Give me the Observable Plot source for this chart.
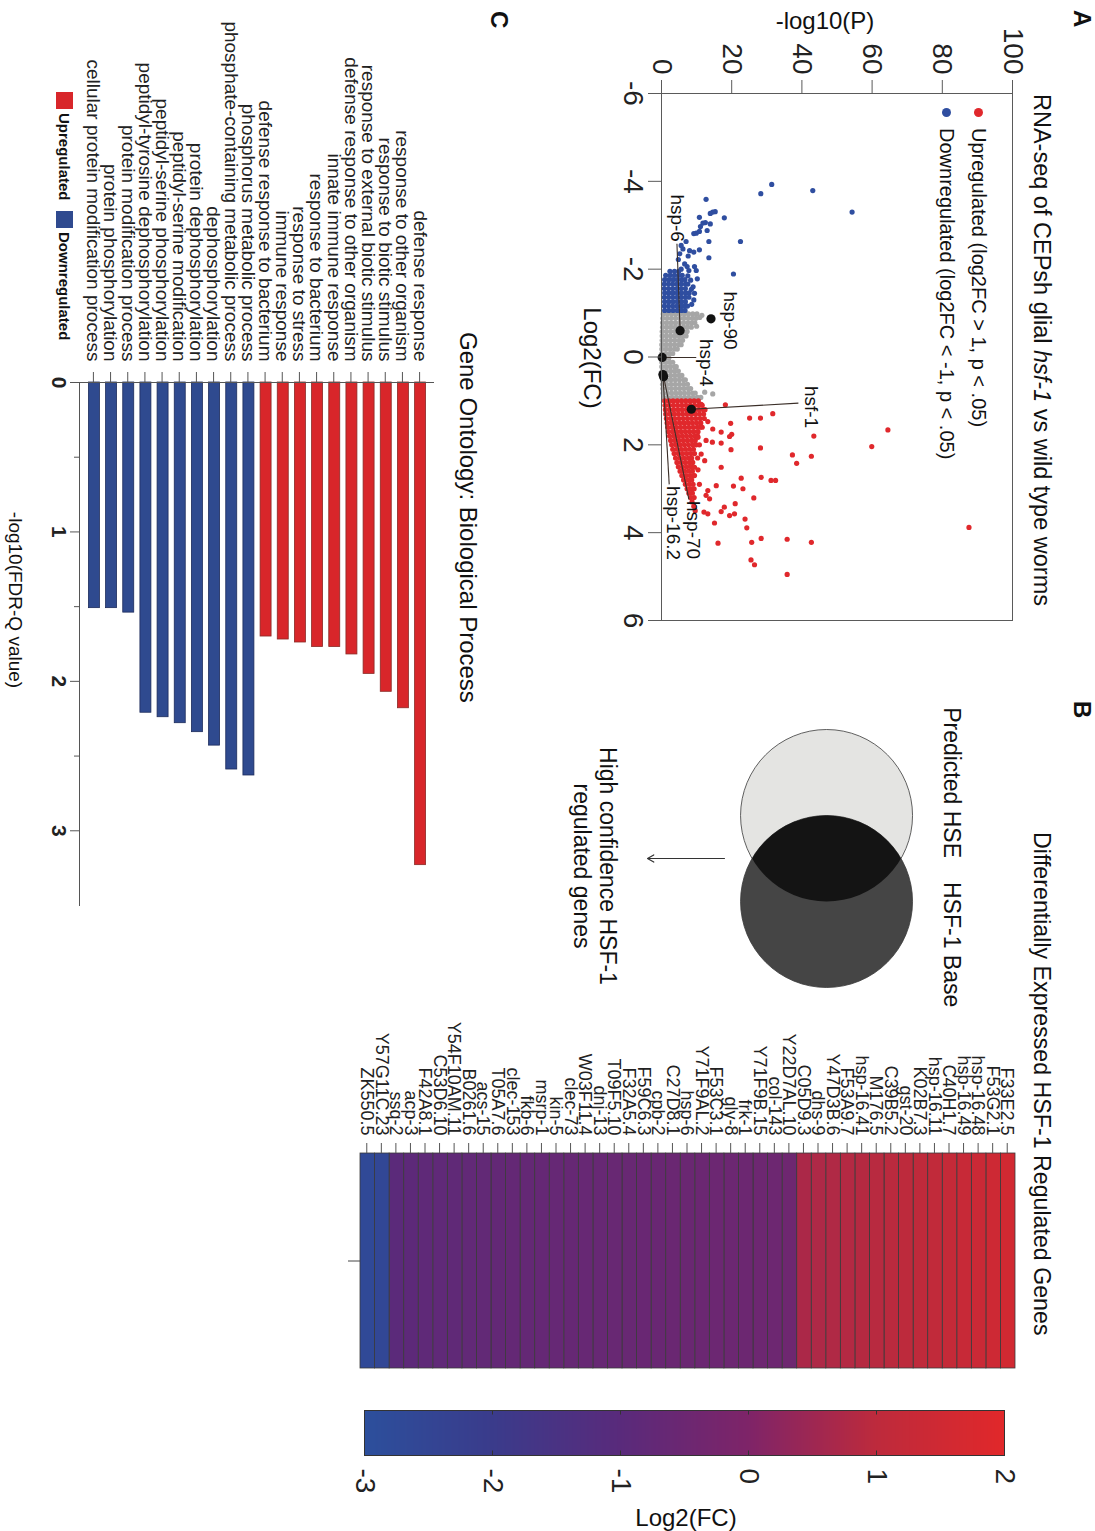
<!DOCTYPE html>
<html><head><meta charset="utf-8">
<script src="https://cdn.jsdelivr.net/npm/d3@7"></script>
<script src="https://cdn.jsdelivr.net/npm/@observablehq/plot@0.6"></script>
<style>
html,body{margin:0;padding:0;background:#fff;overflow:hidden;width:1095px;height:1531px}
#fig{position:absolute;left:0;top:0;width:1531px;height:1095px;transform-origin:0 0;transform:translate(1095px,0) rotate(90deg);background:#fff}
</style></head><body><div id="fig"></div>
<script>
// ---------------- DATA ----------------
const fcTicks = [-6, -4, -2, 0, 2, 4, 6];
const pTicks = [0, 20, 40, 60, 80, 100];

// dense clouds read as rows: [log2FC, [-log10P values]]
const grayCloud = [
  [-0.98,[0.5,1.7,2.9,4.1,5.3,6.5,7.7,8.9,10.1]],
  [-0.88,[0.4,1.6,2.8,4.0,5.2,6.4,7.6,8.8,9.8]],
  [-0.78,[0.3,1.5,2.7,3.9,5.1,6.3,7.5,8.6,9.5]],
  [-0.68,[0.3,1.5,2.7,3.9,5.1,6.3,7.4,8.5]],
  [-0.58,[0.2,1.4,2.6,3.8,5.0,6.2,7.3]],
  [-0.48,[0.2,1.4,2.6,3.8,5.0,6.2,7.0]],
  [-0.38,[0.2,1.4,2.6,3.8,5.0,6.0]],
  [-0.28,[0.1,1.3,2.5,3.7,4.9,5.6]],
  [-0.18,[0.1,1.3,2.5,3.7,4.5]],
  [-0.08,[0.1,1.2,2.3,3.2]],
  [0.02,[0.1,1.1,2.1]],
  [0.12,[0.1,1.2,2.3,3.2]],
  [0.22,[0.1,1.3,2.5,3.7,4.2]],
  [0.32,[0.2,1.4,2.6,3.8,4.8]],
  [0.42,[0.2,1.4,2.6,3.8,5.0,5.8]],
  [0.52,[0.3,1.5,2.7,3.9,5.1,6.3,6.8]],
  [0.62,[0.3,1.5,2.7,3.9,5.1,6.3,7.4]],
  [0.72,[0.4,1.6,2.8,4.0,5.2,6.4,7.6,8.3]],
  [0.82,[0.5,1.7,2.9,4.1,5.3,6.5,7.7,8.9,9.6]],
  [0.92,[0.6,1.8,3.0,4.2,5.4,6.6,7.8,9.0,10.2,11.2]]
];
const grayScatter = [[0.84,14.6],[0.80,12.3],[-0.95,11.5],[-0.70,10.0],[-0.90,10.9]];

const blueCloud = [
  [-1.95,[2.4,3.7,4.9]],
  [-1.86,[1.2,2.5,3.7,4.9,5.9]],
  [-1.76,[0.9,2.1,3.3,4.5,5.7,6.7]],
  [-1.66,[0.8,2.0,3.2,4.4,5.6,6.8,7.5]],
  [-1.56,[0.8,2.0,3.2,4.4,5.6,6.8]],
  [-1.46,[0.9,2.1,3.3,4.5,5.7,6.9,7.9]],
  [-1.36,[0.8,2.0,3.2,4.4,5.6,6.8,7.8]],
  [-1.26,[0.9,2.1,3.3,4.5,5.7,6.8]],
  [-1.16,[0.8,2.0,3.2,4.4,5.6,6.6,7.4]],
  [-1.06,[0.9,2.1,3.3,4.5,5.7,6.7]]
];
const blueScatter = [
  [-3.93,31.4],[-3.72,28.3],[-3.79,43.1],[-3.30,54.3],[-2.63,22.5],[-1.89,20.5],[-3.59,12.7],
  [-3.31,15.3],[-3.30,14.6],[-3.27,13.9],[-3.17,17.9],[-3.18,10.8],[-3.05,11.8],[-3.06,12.5],
  [-3.03,13.9],[-2.97,11.1],[-2.88,13.0],[-2.82,9.9],[-2.81,9.2],[-2.86,10.8],[-2.63,13.5],
  [-2.63,7.0],[-2.54,5.6],[-2.46,6.1],[-2.44,10.8],[-2.39,9.2],[-2.42,8.0],[-2.26,13.5],
  [-2.22,4.8],[-2.06,7.3],[-2.06,9.4],[-1.97,7.8],[-1.97,9.9],[-1.78,10.2],[-1.54,8.5],
  [-2.12,6.6],[-1.85,7.5],[-1.60,9.0],[-1.45,9.4],[-1.30,9.2],[-1.20,8.6],[-2.35,5.2],
  [-2.00,5.6],[-1.75,8.3],[-2.30,7.6]
];

const redCloud = [
  [1.00,[0.9,2.1,3.3,4.5,5.7,6.9,8.1,9.3,10.5]],
  [1.10,[1.0,2.2,3.4,4.6,5.8,7.0,8.2,9.4,10.6,11.6]],
  [1.20,[1.1,2.3,3.5,4.7,5.9,7.1,8.3,9.5,10.7,11.9]],
  [1.30,[1.2,2.4,3.6,4.8,6.0,7.2,8.4,9.6,10.8,12.0]],
  [1.40,[1.4,2.6,3.8,5.0,6.2,7.4,8.6,9.8,11.0,12.2]],
  [1.50,[1.6,2.8,4.0,5.2,6.4,7.6,8.8,10.0,11.2]],
  [1.60,[1.8,3.0,4.2,5.4,6.6,7.8,9.0,10.2,11.0]],
  [1.70,[2.0,3.2,4.4,5.6,6.8,8.0,9.2,10.4]],
  [1.80,[2.3,3.5,4.7,5.9,7.1,8.3,9.5,10.3]],
  [1.90,[2.6,3.8,5.0,6.2,7.4,8.6,9.6]],
  [2.00,[2.9,4.1,5.3,6.5,7.7,8.9,9.9]],
  [2.10,[3.2,4.4,5.6,6.8,8.0,9.1]],
  [2.20,[3.6,4.8,6.0,7.2,8.4,9.4]],
  [2.30,[4.0,5.2,6.4,7.6,8.6]],
  [2.40,[4.4,5.6,6.8,8.0,8.9]],
  [2.50,[4.8,6.0,7.2,8.4]],
  [2.60,[5.3,6.5,7.7,8.8]],
  [2.70,[5.8,7.0,8.2,9.1]],
  [2.80,[6.3,7.5,8.6]],
  [2.90,[6.8,8.0,9.0]],
  [3.00,[7.3,8.4,9.3]],
  [3.10,[7.8,8.8]],
  [3.20,[8.3,9.3]],
  [3.30,[8.7]],
  [3.40,[9.2]],
  [3.50,[9.6]]
];
const redScatter = [
  [1.09,18.2],[1.39,25.1],[1.39,28.2],[1.29,31.7],[1.51,19.7],[1.76,20.0],[1.64,14.6],[1.71,17.0],
  [1.81,19.4],[1.94,14.5],[1.96,17.0],[2.11,19.8],[2.07,28.2],[2.21,11.3],[1.90,12.7],[1.83,10.4],
  [1.47,13.2],[2.36,12.3],[2.51,17.0],[2.76,22.7],[2.74,28.4],[2.81,31.2],[2.81,32.5],[2.93,15.6],
  [2.94,20.5],[3.00,23.2],[3.21,26.3],[3.04,13.2],[3.15,12.7],[3.23,13.7],[3.42,17.9],[3.34,21.0],
  [3.52,17.0],[3.61,19.4],[3.57,20.8],[3.53,12.1],[3.57,13.2],[3.69,23.8],[3.89,24.3],[4.13,28.4],
  [4.22,25.7],[4.62,25.5],[4.73,26.5],[4.24,16.1],[3.78,15.1],[2.51,9.4],[2.57,10.4],[2.70,9.4],
  [2.90,10.8],[3.88,87.6],[1.66,64.5],[2.04,59.9],[1.80,43.4],[2.23,37.3],[2.42,38.5],[2.26,42.7],
  [4.15,35.8],[4.22,42.7],[4.95,35.8],[2.30,10.3],[2.00,10.8],[1.60,11.6],[1.20,12.4],[1.08,11.3]
];

// highlighted genes
const hlGenes   = ["hsp-90", "hsp-6", "hsp-4", "hsf-1", "hsp-70", "hsp-16.2"];
const hlFC      = [-0.87, -0.60, 0.01, 1.19, 0.45, 0.40];
const hlP       = [14.1, 5.3, 0.2, 8.5, 0.6, 0.4];
const hlLineFC  = [null, -2.58, 0.01, 1.05, 3.24, 2.90];
const hlLineP   = [null, 4.4, 9.9, 39.0, 7.8, 2.2];
const hlLabelFC = [-0.83, -2.62, 0.13, 1.14, 3.28, 2.94];
const hlLabelP  = [19.6, 4.5, 12.8, 42.7, 9.0, 3.4];
const hlAnchor  = ["middle", "end", "middle", "middle", "start", "start"];

// Venn
const vennSets = ["Predicted HSE", "HSF-1 Base"];
const vennPos = [0, 1];
const vennFill = ["#e4e4e2", "#454545"];

// heatmap
const heatGenes = ["F33E2.5","F53G2.1","hsp-16.48","hsp-16.49","C40H1.7","hsp-16.11","K02B7.3","gst-20",
  "C39B5.2","M176.5","hsp-16.41","F53A9.7","Y47D3B.6","dhs-9","C05D9.3","Y22D7AL.10","col-143",
  "Y71F9B.15","frk-1","gly-8","F53C3.1","Y71F9AL.2","hsp-6","C27D8.1","cpb-2","F59C6.3","F32A5.4",
  "T09F5.10","dnj-13","W03F11.4","clec-73","kin-5","msrp-1","fkb-6","clec-153","T05A7.6","acs-15",
  "B0261.6","Y54F10AM.11","C53D6.10","F42A8.1","acp-3","ssq-2","Y57G11C.23","ZK550.5"];
const heatValues = [1.55,1.45,1.35,1.28,1.20,1.10,1.05,1.00,0.95,0.92,0.88,0.85,0.80,0.76,0.72,
  -0.42,-0.45,-0.47,-0.48,-0.50,-0.50,-0.52,-0.53,-0.55,-0.56,-0.58,-0.60,-0.60,-0.62,-0.63,
  -0.65,-0.66,-0.68,-0.70,-0.71,-0.73,-0.75,-0.77,-0.80,-0.82,-0.85,-0.88,-0.95,-2.60,-2.70];
const cbTicks = [-3, -2, -1, 0, 1, 2];
const cbColors = ["#2c4f9c", "#3a3b8b", "#592a7b", "#7e2468", "#bd2a3c", "#e1282a"];

// GO bar chart
const goTerms = ["defense response","response to other organism","response to biotic stimulus",
  "response to external biotic stimulus","defense response to other organism","innate immune response",
  "response to bacterium","response to stress","immune response","defense response to bacterium",
  "phosphorus metabolic process","phosphate-containing metabolic process","dephosphorylation",
  "protein dephosphorylation","peptidyl-serine modification","peptidyl-serine phosphorylation",
  "peptidyl-tyrosine dephosphorylation","protein modification process","protein phosphorylation",
  "cellular protein modification process"];
const goValues = [3.23,2.18,2.07,1.95,1.82,1.77,1.77,1.74,1.72,1.70,
  2.63,2.59,2.43,2.34,2.28,2.24,2.21,1.54,1.51,1.51];
const goDir = ["Up","Up","Up","Up","Up","Up","Up","Up","Up","Up",
  "Down","Down","Down","Down","Down","Down","Down","Down","Down","Down"];
const goTicks = [0, 1, 2, 3];
const goMinorTicks = [0.5, 1.5, 2.5];

// ---------------- BUILD ----------------
const FONT = '"Liberation Sans", Arial, Helvetica, sans-serif';
const NARROW = '"Liberation Sans Narrow", "Arial Narrow", "Liberation Sans", sans-serif';
const RED = "#e0282c", BLUE = "#2f4ea0", GRAY = "#a6a6a6";
const fig = document.getElementById("fig");
function place(el, left, top) {
  el.style.position = "absolute"; el.style.left = left + "px"; el.style.top = top + "px";
  fig.appendChild(el);
}
function addText(html, u, v, o = {}) {
  const d = document.createElement("div");
  d.innerHTML = html;
  d.style.cssText = `position:absolute;left:${u}px;top:${v}px;font:${o.style || "normal"} ${o.weight || "normal"} ${o.size || 20}px ${o.family || FONT};white-space:nowrap;line-height:1;color:${o.color || "#111"};text-align:center`;
  const tx = o.anchor === "middle" ? "-50%" : o.anchor === "end" ? "-100%" : "0";
  d.style.transform = `translate(${tx}, -50%)` + (o.rotate ? ` rotate(${o.rotate}deg)` : "");
  fig.appendChild(d);
  return d;
}
const rows = cloud => cloud.flatMap(([fc, ps]) => ps.map(p => [fc, p]));
const grayPts = rows(grayCloud).concat(grayScatter);
const bluePts = rows(blueCloud).concat(blueScatter);
const redPts = rows(redCloud).concat(redScatter);
const hl = hlGenes.map((g, i) => ({gene: g, fc: hlFC[i], p: hlP[i], lfc: hlLineFC[i], lp: hlLineP[i],
  tfc: hlLabelFC[i], tp: hlLabelP[i], anchor: hlAnchor[i]}));
const baseStyle = {fontFamily: FONT, color: "#222", background: "transparent", overflow: "visible"};

// ---- Panel A: volcano ----
const volcano = Plot.plot({
  width: 640, height: 520, marginLeft: 93, marginRight: 20, marginTop: 82, marginBottom: 87,
  style: baseStyle,
  x: {domain: [-6, 6]}, y: {domain: [0, 100]},
  marks: [
    Plot.dot(grayPts, {x: d => d[0], y: d => d[1], r: 2.6, fill: GRAY}),
    Plot.dot(bluePts, {x: d => d[0], y: d => d[1], r: 2.6, fill: BLUE}),
    Plot.dot(redPts, {x: d => d[0], y: d => d[1], r: 2.6, fill: RED}),
    Plot.link(hl.filter(d => d.lfc != null), {x1: "fc", y1: "p", x2: "lfc", y2: "lp", stroke: "#3a2e28", strokeWidth: 1.1}),
    Plot.dot(hl, {x: "fc", y: "p", r: 4.6, fill: "#111"}),
    ...["start", "middle", "end"].map(a => Plot.text(hl.filter(d => d.anchor === a),
      {x: "tfc", y: "tp", text: "gene", textAnchor: a, fontSize: 19, fill: "#111"})),
    Plot.frame({stroke: "#5a5a5a"}),
    Plot.axisX({ticks: fcTicks, tickSize: 14, tickPadding: 4, fontSize: 28, fontFamily: NARROW,
      tickFormat: d => String(d), label: null, stroke: "#5a5a5a"}),
    Plot.axisY({ticks: pTicks, tickSize: 13, tickPadding: 6, fontSize: 28, fontFamily: NARROW,
      tickFormat: d => String(d), label: null, stroke: "#5a5a5a"})
  ]
});
place(volcano, 0, 0);

// ---- Panel B: Venn ----
const venn = Plot.plot({
  width: 344, height: 420, margin: 0, style: baseStyle,
  x: {domain: [-1.5, 2.5], axis: null}, y: {domain: [0, 420 / 86], reverse: true, axis: null},
  marks: [
    Plot.dot(vennSets, {x: (d, i) => vennPos[i], y: () => 1.953, r: 86, fill: (d, i) => vennFill[i], stroke: "#3a3a3a", strokeWidth: 0.8}),
    Plot.dot([vennSets[1]], {x: () => vennPos[1], y: () => 1.953, r: 86, fill: "#141414", ariaDescription: "lens"}),
    Plot.arrow([0], {x1: () => 0.5, x2: () => 0.5, y1: () => 3.14, y2: () => 4.035, stroke: "#333", strokeWidth: 1.2, headLength: 9})
  ]
});
place(venn, 686, 100);
{
  const ns = "http://www.w3.org/2000/svg";
  const sx = venn.scale("x"), sy = venn.scale("y");
  const defs = document.createElementNS(ns, "defs");
  const cp = document.createElementNS(ns, "clipPath"); cp.setAttribute("id", "lensClip");
  const c = document.createElementNS(ns, "circle");
  c.setAttribute("cx", sx.apply(vennPos[0])); c.setAttribute("cy", sy.apply(1.953)); c.setAttribute("r", 86);
  cp.appendChild(c); defs.appendChild(cp); venn.insertBefore(defs, venn.firstChild);
  const g = venn.querySelector('g[aria-description="lens"]');
  if (g) g.setAttribute("clip-path", "url(#lensClip)");
}

// ---- Panel B: heatmap ----
const colorOpts = {type: "linear", domain: cbTicks, range: cbColors, interpolate: "rgb"};
const heatData = heatGenes.map((g, i) => ({gene: g, value: heatValues[i]}));
const heat = Plot.plot({
  width: 372, height: 780, marginLeft: 153, marginRight: 4, marginTop: 80, marginBottom: 45,
  style: baseStyle,
  x: {domain: ["Log2FC"], padding: 0, round: false}, y: {domain: heatGenes, padding: 0, round: false},
  color: colorOpts,
  marks: [
    Plot.cell(heatData, {x: () => "Log2FC", y: "gene", fill: "value", stroke: "#3a3a3a", strokeWidth: 0.8}),
    Plot.axisY({tickSize: 10, tickPadding: 8, fontSize: 18, label: null, stroke: "#555"}),
    Plot.axisX({tickSize: 12, tickFormat: () => "", label: null, stroke: "#444"})
  ]
});
place(heat, 1000, 0);

// ---- colour bar ----
const cbar = Plot.plot({
  width: 131, height: 780, marginLeft: 10, marginRight: 76, marginTop: 90, marginBottom: 50,
  style: baseStyle,
  x: {domain: [0, 1], axis: null}, y: {domain: [-3, 2]},
  color: colorOpts,
  marks: [
    Plot.raster({x1: 0, x2: 1, y1: -3, y2: 2, fill: (x, y) => y, pixelSize: 1}),
    Plot.frame({stroke: "#333"}),
    Plot.ruleY(cbTicks, {x1: 0, x2: 0.1, stroke: "#333"}),
    Plot.ruleY(cbTicks, {x1: 0.9, x2: 1, stroke: "#333"}),
    Plot.axisY({anchor: "right", ticks: cbTicks, tickSize: 0, tickPadding: 13, fontSize: 28,
      fontFamily: NARROW, tickFormat: d => String(d), label: null})
  ]
});
place(cbar, 1400, 0);

// ---- Panel C: GO bars ----
const goData = goTerms.map((t, i) => ({term: t, value: goValues[i], dir: goDir[i]}));
const bars = Plot.plot({
  width: 920, height: 495, marginLeft: 382, marginRight: 15, marginTop: 61, marginBottom: 80,
  style: baseStyle,
  x: {domain: [0, 3.5]}, y: {domain: goTerms, paddingInner: 0.36, paddingOuter: 0.49, round: false},
  marks: [
    Plot.barX(goData, {x: "value", y: "term", fill: d => d.dir === "Up" ? "#d8262a" : "#2f4a8f",
      stroke: d => d.dir === "Up" ? "#8a2a26" : "#1d2c5c", strokeWidth: 0.8}),
    Plot.ruleX([0], {stroke: "#555"}),
    Plot.frame({anchor: "bottom", stroke: "#555"}),
    Plot.axisY({tickSize: 10, tickPadding: 11, fontSize: 19, label: null, stroke: "#555"}),
    Plot.axisX({ticks: goTicks, tickSize: 10, tickPadding: 3, fontSize: 21, fontWeight: "bold",
      tickFormat: d => String(d), label: null, stroke: "#555"}),
    Plot.axisX({ticks: goMinorTicks, tickSize: 6, tickFormat: () => "", label: null, stroke: "#555"})
  ]
});
place(bars, 0, 600);

// ---------------- TEXT ----------------
addText("A", 10, 13, {size: 24, weight: "bold"});
addText("RNA-seq of CEPsh glial <i>hsf-1</i> vs wild type worms", 94, 54, {size: 23.5});
addText("-log10(P)", 21, 270, {size: 24, anchor: "middle", rotate: -90});
addText("Log2(FC)", 358, 503, {size: 24, anchor: "middle"});
// legend A
for (const [col, label, v] of [[RED, "Upregulated (log2FC &gt; 1, p &lt; .05)", 116], [BLUE, "Downregulated (log2FC &lt; -1, p &lt; .05)", 148]]) {
  const dot = document.createElement("div");
  dot.style.cssText = `position:absolute;left:${107.5}px;top:${v - 4.5}px;width:9px;height:9px;border-radius:50%;background:${col}`;
  fig.appendChild(dot);
  addText(label, 128, v, {size: 20});
}
addText("B", 701, 13, {size: 24, weight: "bold"});
addText("Differentially Expressed HSF-1 Regulated Genes", 832, 54, {size: 23.2});
addText("Predicted HSE", 858, 144, {size: 23, anchor: "end"});
addText("HSF-1 Base", 882, 144, {size: 23});
addText("High confidence HSF-1<br>regulated genes", 866, 500, {size: 23, anchor: "middle"}).style.lineHeight = "26px";
addText("Log2(FC)", 1518, 409, {size: 24, anchor: "middle", rotate: -90});
addText("C", 11, 596, {size: 24, weight: "bold"});
addText("Gene Ontology: Biological Process", 332, 627, {size: 24});
addText("-log10(FDR-Q value)", 600, 1080, {size: 19, anchor: "middle"});
// legend C
for (const [col, label, u0] of [["#d8262a", "Upregulated", 92], ["#2f4a8f", "Downregulated", 211]]) {
  const sq = document.createElement("div");
  sq.style.cssText = `position:absolute;left:${u0}px;top:1022px;width:17px;height:17px;background:${col}`;
  fig.appendChild(sq);
  addText(label, u0 + 21, 1031, {size: 15, weight: "bold"});
}
</script></body></html>
